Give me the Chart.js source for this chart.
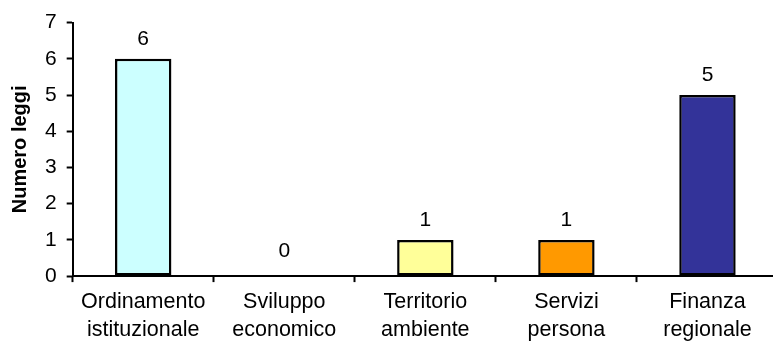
<!DOCTYPE html>
<html>
<head>
<meta charset="utf-8">
<script src="https://cdn.jsdelivr.net/npm/chart.js@4/dist/chart.umd.min.js"></script>
<style>
  html, body { margin: 0; padding: 0; background: #fff; overflow: hidden; }
  #wrap { width: 780px; height: 350px; }
</style>
</head>
<body>
<div id="wrap"><canvas id="c" width="780" height="350"></canvas></div>
<script>
// Leggi approvate per settore
const categories = [
  ['Ordinamento', 'istituzionale'],
  ['Sviluppo', 'economico'],
  ['Territorio', 'ambiente'],
  ['Servizi', 'persona'],
  ['Finanza', 'regionale']
];
const leggi = [6, 0, 1, 1, 5];
const barColors = ['#CCFFFF', '#FFFFFF', '#FFFF99', '#FF9900', '#333399'];
const yTicks = [0, 1, 2, 3, 4, 5, 6, 7];

const FONT = "'Liberation Sans', Arial, sans-serif";

// Value labels above each bar, positioned from the data value
const valueLabels = {
  id: 'valueLabels',
  afterDatasetsDraw(chart) {
    const { ctx } = chart;
    const meta = chart.getDatasetMeta(0);
    const yScale = chart.scales.y;
    ctx.save();
    ctx.fillStyle = '#000';
    ctx.font = '21px ' + FONT;
    ctx.textAlign = 'center';
    ctx.textBaseline = 'alphabetic';
    meta.data.forEach((bar, i) => {
      const v = leggi[i];
      const top = yScale.getPixelForValue(v);
      ctx.fillText(String(v), bar.x, top - (v === 0 ? 19 : 14));
    });
    ctx.restore();
  }
};

new Chart(document.getElementById('c'), {
  type: 'bar',
  data: {
    labels: categories,
    datasets: [{
      data: leggi,
      backgroundColor: barColors,
      borderColor: '#000',
      borderWidth: (c) => (leggi[c.dataIndex] > 0 ? 2.5 : 0),
      borderSkipped: false,
      categoryPercentage: 1,
      barPercentage: 0.4
    }]
  },
  options: {
    responsive: false,
    animation: false,
    layout: { padding: { top: 14, right: 2, left: 3, bottom: 0 } },
    plugins: {
      legend: { display: false },
      tooltip: { enabled: false }
    },
    scales: {
      x: {
        grid: {
          display: true,
          offset: true,
          drawOnChartArea: false,
          drawTicks: true,
          tickLength: 6,
          tickWidth: 2,
          tickColor: '#000'
        },
        border: { color: '#000', width: 2, z: 1 },
        ticks: {
          color: '#000',
          font: { family: FONT, size: 21.5, lineHeight: 1.3 },
          padding: 6,
          maxRotation: 0,
          autoSkip: false
        }
      },
      y: {
        min: 0,
        max: 7,
        afterBuildTicks(scale) {
          scale.ticks = yTicks.map(v => ({ value: v }));
        },
        grid: {
          display: true,
          drawOnChartArea: false,
          drawTicks: true,
          tickLength: 6,
          tickWidth: 2,
          tickColor: '#000'
        },
        border: { color: '#000', width: 2 },
        ticks: {
          color: '#000',
          font: { family: FONT, size: 21 },
          padding: 10
        },
        title: {
          display: true,
          text: 'Numero leggi',
          color: '#000',
          font: { family: FONT, size: 20, weight: 'bold' },
          padding: { top: 5, bottom: 3 }
        }
      }
    }
  },
  plugins: [valueLabels]
});
</script>
</body>
</html>
